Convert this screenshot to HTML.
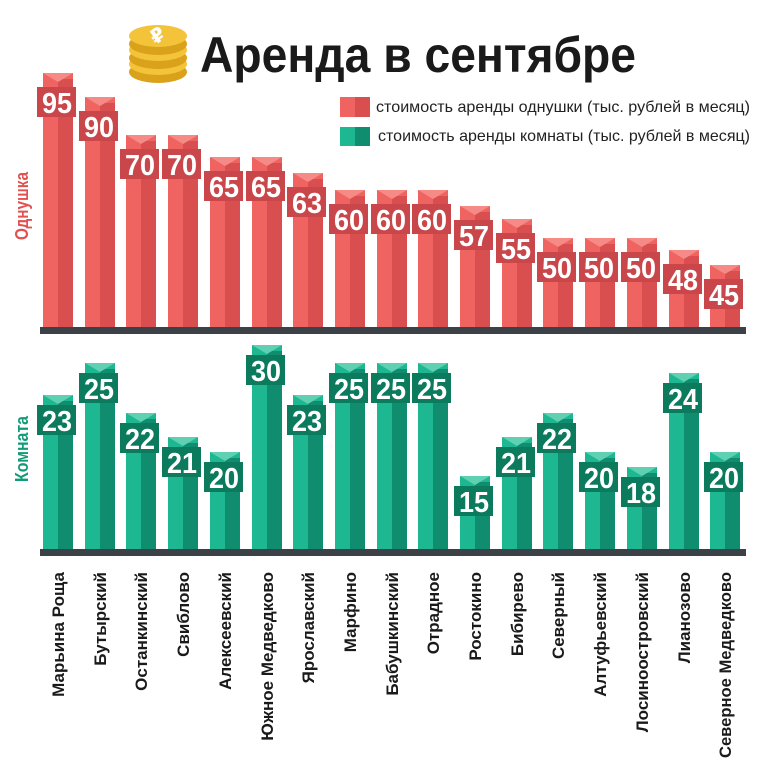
<!DOCTYPE html>
<html><head><meta charset="utf-8"><style>
html,body{margin:0;background:#fff;overflow:hidden;width:775px;height:781px;}
svg{display:block;font-family:"Liberation Sans","DejaVu Sans",sans-serif;}
.n{font-weight:bold;font-size:29px;fill:#fff;text-anchor:middle;}
.d{font-weight:bold;font-size:17px;fill:#1a1a1a;text-anchor:end;}
</style></head><body>
<svg width="775" height="781" viewBox="0 0 775 781" xmlns="http://www.w3.org/2000/svg">
<defs>
<g id="coin"><ellipse cx="0" cy="8" rx="29" ry="11" fill="#d9a21a"/><ellipse cx="0" cy="0" rx="29" ry="11" fill="#f3c33a"/></g>
<g id="r"><rect x="0" y="0" width="30" height="700" fill="#ef6461"/><rect x="15" y="6" width="15" height="700" fill="#d94f4f"/><polygon points="0,0 30,0 15,9" fill="#f58a86"/></g>
<g id="g"><rect x="0" y="0" width="30" height="700" fill="#1db792"/><rect x="15" y="6" width="15" height="700" fill="#0f8d6e"/><polygon points="0,0 30,0 15,9" fill="#5fd0b2"/></g>
<clipPath id="ct"><rect x="0" y="0" width="775" height="328"/></clipPath>
<clipPath id="cb"><rect x="0" y="0" width="775" height="550"/></clipPath>
</defs>
<use href="#coin" x="158" y="64"/><use href="#coin" x="158" y="50"/><use href="#coin" x="158" y="36"/>
<text x="158" y="42" font-size="20" font-weight="bold" fill="#fff" text-anchor="middle" transform="rotate(-35 158 36)">₽</text>
<text x="200" y="72" font-size="50" font-weight="bold" fill="#1a1a1a" textLength="436" lengthAdjust="spacingAndGlyphs">Аренда в сентябре</text>
<rect x="340" y="97" width="30" height="20" fill="#ef6461"/><rect x="355" y="97" width="15" height="20" fill="#d94f4f"/>
<text x="376" y="112" font-size="16" fill="#222" textLength="374" lengthAdjust="spacingAndGlyphs">стоимость аренды однушки (тыс. рублей в месяц)</text>
<rect x="340" y="127" width="30" height="19" fill="#1db792"/><rect x="355" y="127" width="15" height="19" fill="#0f8d6e"/>
<text x="378" y="141" font-size="16" fill="#222" textLength="372" lengthAdjust="spacingAndGlyphs">стоимость аренды комнаты (тыс. рублей в месяц)</text>
<text transform="translate(28,240) rotate(-90)" font-size="18" font-weight="bold" fill="#e0514f" textLength="68" lengthAdjust="spacingAndGlyphs">Однушка</text>
<text transform="translate(28,482) rotate(-90)" font-size="18" font-weight="bold" fill="#139a78" textLength="66" lengthAdjust="spacingAndGlyphs">Комната</text>
<g clip-path="url(#ct)">
<use href="#r" x="43" y="73"/><use href="#r" x="85" y="97"/><use href="#r" x="126" y="135"/><use href="#r" x="168" y="135"/><use href="#r" x="210" y="157"/><use href="#r" x="252" y="157"/><use href="#r" x="293" y="173"/><use href="#r" x="335" y="190"/><use href="#r" x="377" y="190"/><use href="#r" x="418" y="190"/><use href="#r" x="460" y="206"/><use href="#r" x="502" y="219"/><use href="#r" x="543" y="238"/><use href="#r" x="585" y="238"/><use href="#r" x="627" y="238"/><use href="#r" x="669" y="250"/><use href="#r" x="710" y="265"/>
</g>
<g fill="#c9474a">
<rect x="37" y="87" width="39" height="30"/><rect x="79" y="111" width="39" height="30"/><rect x="120" y="149" width="39" height="30"/><rect x="162" y="149" width="39" height="30"/><rect x="204" y="171" width="39" height="30"/><rect x="246" y="171" width="39" height="30"/><rect x="287" y="187" width="39" height="30"/><rect x="329" y="204" width="39" height="30"/><rect x="371" y="204" width="39" height="30"/><rect x="412" y="204" width="39" height="30"/><rect x="454" y="220" width="39" height="30"/><rect x="496" y="233" width="39" height="30"/><rect x="537" y="252" width="39" height="30"/><rect x="579" y="252" width="39" height="30"/><rect x="621" y="252" width="39" height="30"/><rect x="663" y="264" width="39" height="30"/><rect x="704" y="279" width="39" height="30"/>
</g>
<g class="n" textLength="30" lengthAdjust="spacingAndGlyphs">
<text x="57" y="113" textLength="30" lengthAdjust="spacingAndGlyphs">95</text><text x="99" y="137" textLength="30" lengthAdjust="spacingAndGlyphs">90</text><text x="140" y="175" textLength="30" lengthAdjust="spacingAndGlyphs">70</text><text x="182" y="175" textLength="30" lengthAdjust="spacingAndGlyphs">70</text><text x="224" y="197" textLength="30" lengthAdjust="spacingAndGlyphs">65</text><text x="266" y="197" textLength="30" lengthAdjust="spacingAndGlyphs">65</text><text x="307" y="213" textLength="30" lengthAdjust="spacingAndGlyphs">63</text><text x="349" y="230" textLength="30" lengthAdjust="spacingAndGlyphs">60</text><text x="391" y="230" textLength="30" lengthAdjust="spacingAndGlyphs">60</text><text x="432" y="230" textLength="30" lengthAdjust="spacingAndGlyphs">60</text><text x="474" y="246" textLength="30" lengthAdjust="spacingAndGlyphs">57</text><text x="516" y="259" textLength="30" lengthAdjust="spacingAndGlyphs">55</text><text x="557" y="278" textLength="30" lengthAdjust="spacingAndGlyphs">50</text><text x="599" y="278" textLength="30" lengthAdjust="spacingAndGlyphs">50</text><text x="641" y="278" textLength="30" lengthAdjust="spacingAndGlyphs">50</text><text x="683" y="290" textLength="30" lengthAdjust="spacingAndGlyphs">48</text><text x="724" y="305" textLength="30" lengthAdjust="spacingAndGlyphs">45</text>
</g>
<rect x="40" y="327" width="706" height="7" fill="#3c4147"/>
<g clip-path="url(#cb)">
<use href="#g" x="43" y="395"/><use href="#g" x="85" y="363"/><use href="#g" x="126" y="413"/><use href="#g" x="168" y="437"/><use href="#g" x="210" y="452"/><use href="#g" x="252" y="345"/><use href="#g" x="293" y="395"/><use href="#g" x="335" y="363"/><use href="#g" x="377" y="363"/><use href="#g" x="418" y="363"/><use href="#g" x="460" y="476"/><use href="#g" x="502" y="437"/><use href="#g" x="543" y="413"/><use href="#g" x="585" y="452"/><use href="#g" x="627" y="467"/><use href="#g" x="669" y="373"/><use href="#g" x="710" y="452"/>
</g>
<g fill="#0b7a5d">
<rect x="37" y="405" width="39" height="30"/><rect x="79" y="373" width="39" height="30"/><rect x="120" y="423" width="39" height="30"/><rect x="162" y="447" width="39" height="30"/><rect x="204" y="462" width="39" height="30"/><rect x="246" y="355" width="39" height="30"/><rect x="287" y="405" width="39" height="30"/><rect x="329" y="373" width="39" height="30"/><rect x="371" y="373" width="39" height="30"/><rect x="412" y="373" width="39" height="30"/><rect x="454" y="486" width="39" height="30"/><rect x="496" y="447" width="39" height="30"/><rect x="537" y="423" width="39" height="30"/><rect x="579" y="462" width="39" height="30"/><rect x="621" y="477" width="39" height="30"/><rect x="663" y="383" width="39" height="30"/><rect x="704" y="462" width="39" height="30"/>
</g>
<g class="n">
<text x="57" y="431" textLength="30" lengthAdjust="spacingAndGlyphs">23</text><text x="99" y="399" textLength="30" lengthAdjust="spacingAndGlyphs">25</text><text x="140" y="449" textLength="30" lengthAdjust="spacingAndGlyphs">22</text><text x="182" y="473" textLength="30" lengthAdjust="spacingAndGlyphs">21</text><text x="224" y="488" textLength="30" lengthAdjust="spacingAndGlyphs">20</text><text x="266" y="381" textLength="30" lengthAdjust="spacingAndGlyphs">30</text><text x="307" y="431" textLength="30" lengthAdjust="spacingAndGlyphs">23</text><text x="349" y="399" textLength="30" lengthAdjust="spacingAndGlyphs">25</text><text x="391" y="399" textLength="30" lengthAdjust="spacingAndGlyphs">25</text><text x="432" y="399" textLength="30" lengthAdjust="spacingAndGlyphs">25</text><text x="474" y="512" textLength="30" lengthAdjust="spacingAndGlyphs">15</text><text x="516" y="473" textLength="30" lengthAdjust="spacingAndGlyphs">21</text><text x="557" y="449" textLength="30" lengthAdjust="spacingAndGlyphs">22</text><text x="599" y="488" textLength="30" lengthAdjust="spacingAndGlyphs">20</text><text x="641" y="503" textLength="30" lengthAdjust="spacingAndGlyphs">18</text><text x="683" y="409" textLength="30" lengthAdjust="spacingAndGlyphs">24</text><text x="724" y="488" textLength="30" lengthAdjust="spacingAndGlyphs">20</text>
</g>
<rect x="40" y="549" width="706" height="7" fill="#3c4147"/>
<g class="d">
<text transform="translate(64,572) rotate(-90)">Марьина Роща</text>
<text transform="translate(106,572) rotate(-90)">Бутырский</text>
<text transform="translate(147,572) rotate(-90)">Останкинский</text>
<text transform="translate(189,572) rotate(-90)">Свиблово</text>
<text transform="translate(231,572) rotate(-90)">Алексеевский</text>
<text transform="translate(273,572) rotate(-90)">Южное Медведково</text>
<text transform="translate(314,572) rotate(-90)">Ярославский</text>
<text transform="translate(356,572) rotate(-90)">Марфино</text>
<text transform="translate(398,572) rotate(-90)">Бабушкинский</text>
<text transform="translate(439,572) rotate(-90)">Отрадное</text>
<text transform="translate(481,572) rotate(-90)">Ростокино</text>
<text transform="translate(523,572) rotate(-90)">Бибирево</text>
<text transform="translate(564,572) rotate(-90)">Северный</text>
<text transform="translate(606,572) rotate(-90)">Алтуфьевский</text>
<text transform="translate(648,572) rotate(-90)">Лосиноостровский</text>
<text transform="translate(690,572) rotate(-90)">Лианозово</text>
<text transform="translate(731,572) rotate(-90)" textLength="186" lengthAdjust="spacingAndGlyphs">Северное Медведково</text>
</g>
</svg>
</body></html>
